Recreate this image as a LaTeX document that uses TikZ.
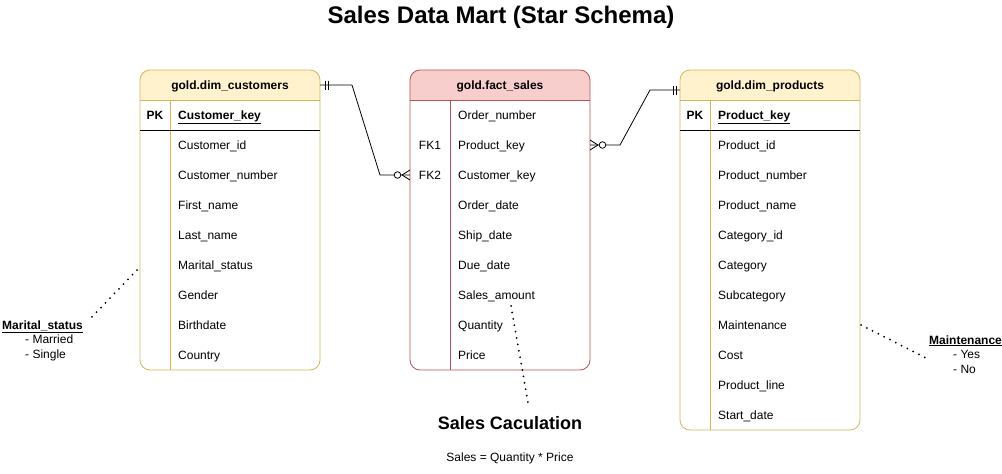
\documentclass[tikz,border=0pt]{standalone}
\usepackage{fontspec}
\setmainfont{Liberation Sans}
\definecolor{yfill}{HTML}{FFF2CC}
\definecolor{ystroke}{HTML}{D6B656}
\definecolor{rfill}{HTML}{F8CECC}
\definecolor{rstroke}{HTML}{B85450}
\begin{document}
\begin{tikzpicture}[x=1pt,y=-1pt,
  txt/.style={inner sep=0pt, text height=11pt, text depth=3pt, font=\fontsize{12}{14}\selectfont},
  field/.style={txt, anchor=west},
  keylbl/.style={txt, anchor=center},
  hdr/.style={txt, font=\fontsize{12}{14}\selectfont\bfseries},
  rel/.style={draw=black, line width=0.8pt},
  notedots/.style={line width=2pt, line cap=round, dash pattern=on 0pt off 6.5pt},
  note/.style={inner sep=0pt, text height=11pt, text depth=3pt, anchor=west, font=\fontsize{12}{14}\selectfont}]
\useasboundingbox (0,0) rectangle (1002,474);

% Title
\node[inner sep=0pt, font=\fontsize{24}{28}\selectfont\bfseries] (title) at (501,17) {Sales Data Mart (Star Schema)};

% ---------- gold.dim_customers ----------
\fill[white, rounded corners=10pt] (140,70) rectangle (320,370);
\begin{scope}
  \clip[rounded corners=10pt] (140,70) rectangle (320,370);
  \fill[yfill] (140,70) rectangle (320,100);
\end{scope}
\draw[ystroke, line width=0.8pt, rounded corners=10pt] (140,70) rectangle (320,370);
\draw[ystroke, line width=0.8pt] (140,100) -- (320,100);
\draw[ystroke, line width=0.8pt] (170,100) -- (170,370);
\draw[black, line width=0.8pt] (140,130) -- (320,130);
\node[hdr] (custh) at (230,85) {gold.dim\_customers};
\node[keylbl, font=\fontsize{12}{14}\selectfont\bfseries] (custpk) at (155,115) {PK};
\node[field, font=\fontsize{12}{14}\selectfont\bfseries] (custk) at (178,115) {\underline{Customer\_key}};
\foreach \t [count=\i from 0] in {Customer\_id,Customer\_number,First\_name,Last\_name,Marital\_status,Gender,Birthdate,Country}
  \node[field] (cust\i) at (178,145+30*\i) {\t};

% ---------- gold.fact_sales ----------
\fill[white, rounded corners=10pt] (410,70) rectangle (590,370);
\begin{scope}
  \clip[rounded corners=10pt] (410,70) rectangle (590,370);
  \fill[rfill] (410,70) rectangle (590,100);
\end{scope}
\draw[rstroke, line width=0.8pt, rounded corners=10pt] (410,70) rectangle (590,370);
\draw[rstroke, line width=0.8pt] (410,100) -- (590,100);
\draw[rstroke, line width=0.8pt] (450,100) -- (450,370);
\node[hdr] (facth) at (500,85) {gold.fact\_sales};
\node[keylbl] (fk1) at (430,145) {FK1};
\node[keylbl] (fk2) at (430,175) {FK2};
\foreach \t [count=\i from 0] in {Order\_number,Product\_key,Customer\_key,Order\_date,Ship\_date,Due\_date,Sales\_amount,Quantity,Price}
  \node[field] (fact\i) at (458,115+30*\i) {\t};

% ---------- gold.dim_products ----------
\fill[white, rounded corners=10pt] (680,70) rectangle (860,430);
\begin{scope}
  \clip[rounded corners=10pt] (680,70) rectangle (860,430);
  \fill[yfill] (680,70) rectangle (860,100);
\end{scope}
\draw[ystroke, line width=0.8pt, rounded corners=10pt] (680,70) rectangle (860,430);
\draw[ystroke, line width=0.8pt] (680,100) -- (860,100);
\draw[ystroke, line width=0.8pt] (710,100) -- (710,430);
\draw[black, line width=0.8pt] (680,130) -- (860,130);
\node[hdr] (prodh) at (770,85) {gold.dim\_products};
\node[keylbl, font=\fontsize{12}{14}\selectfont\bfseries] (prodpk) at (695,115) {PK};
\node[field, font=\fontsize{12}{14}\selectfont\bfseries] (prodk) at (718,115) {\underline{Product\_key}};
\foreach \t [count=\i from 0] in {Product\_id,Product\_number,Product\_name,Category\_id,Category,Subcategory,Maintenance,Cost,Product\_line,Start\_date}
  \node[field] (prod\i) at (718,145+30*\i) {\t};

% ---------- relationships ----------
\coordinate (ca) at (320,85);
\coordinate (cb) at (352,85);
\coordinate (cc) at (380,175);
\coordinate (cd) at (410,175);
\draw[rel] (ca) -- (cb) -- (cc) -- (cd);
\draw[rel] (325,80.5) -- (325,89.5);
\draw[rel] (328.5,80.5) -- (328.5,89.5);
\draw[rel] (402,175) -- (410,170);
\draw[rel] (402,175) -- (410,180);
\draw[rel, fill=white] (397.5,175) circle[radius=3.3pt];

\coordinate (pa) at (680,90);
\coordinate (pb) at (650,90);
\coordinate (pc) at (620,145);
\coordinate (pd) at (590,145);
\draw[rel] (pa) -- (pb) -- (pc) -- (pd);
\draw[rel] (676.5,85.5) -- (676.5,94.5);
\draw[rel] (673,85.5) -- (673,94.5);
\draw[rel] (598,145) -- (590,140);
\draw[rel] (598,145) -- (590,150);
\draw[rel, fill=white] (602.5,145) circle[radius=3.3pt];

% ---------- notes ----------
\coordinate (ms1) at (137,270);
\coordinate (ms2) at (89,320);
\draw[notedots] (ms1) -- (ms2);
\node[note, font=\fontsize{12}{14}\selectfont\bfseries] (msh) at (2,325) {\underline{Marital\_status}};
\node[note] (ms3) at (25,339.5) {- Married};
\node[note] (ms4) at (25,354) {- Single};

\coordinate (mt1) at (861,325);
\coordinate (mt2) at (926,358);
\draw[notedots] (mt1) -- (mt2);
\node[note, font=\fontsize{12}{14}\selectfont\bfseries] (mth) at (929,340) {\underline{Maintenance}};
\node[note] (mt3) at (953,354.5) {- Yes};
\node[note] (mt4) at (953,369) {- No};

\coordinate (sc1) at (511,306);
\coordinate (sc2) at (529,408);
\draw[notedots] (sc1) -- (sc2);
\node[inner sep=0pt, font=\fontsize{18}{21}\selectfont\bfseries] (sch) at (510,423) {Sales Caculation};
\node[inner sep=0pt, font=\fontsize{12}{14}\selectfont] (scf) at (510,458) {Sales = Quantity * Price};
\end{tikzpicture}
\end{document}
